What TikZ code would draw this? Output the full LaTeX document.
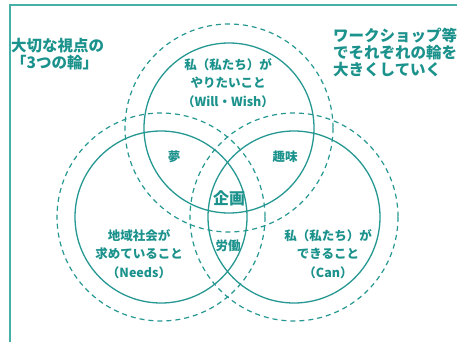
\documentclass[tikz,border=0pt]{standalone}
\usepackage{fontspec}
\setmainfont{Noto Sans CJK JP}
\font\jpbA="Noto Sans CJK JP/B" at 12.5pt
\font\jpbB="Noto Sans CJK JP/B" at 15.5pt
\font\jpbC="Noto Sans CJK JP/B" at 16pt
\newcommand{\lblskip}{\baselineskip=18.5pt\relax}
\newcommand{\headskip}{\baselineskip=17pt\relax}
\definecolor{ringteal}{RGB}{38,152,146}
\definecolor{textteal}{RGB}{28,146,140}
\definecolor{frameteal}{RGB}{70,176,166}
\begin{document}
\begin{tikzpicture}[x=1pt,y=-1pt,
  ring/.style={draw=ringteal,line width=1.3pt},
  dring/.style={draw=ringteal,line width=1.2pt,dash pattern=on 5pt off 4pt},
  lbl/.style={text=textteal,font=\jpbA,execute at begin node=\lblskip,align=center,inner sep=0pt},
  head/.style={text=textteal,font=\jpbB,execute at begin node=\headskip,align=left,inner sep=0pt,anchor=west}]
\useasboundingbox (0,0) rectangle (457,342);
\fill[white] (0,0) rectangle (457,342);
% frame
\coordinate (fa) at (10,342);
\coordinate (fb) at (10,5);
\coordinate (fc) at (457,5);
\draw[frameteal,line width=1.2pt] (fa) -- (fb) -- (fc);
% ring centres
\coordinate (T) at (229,128);
\coordinate (L) at (161,217);
\coordinate (R) at (294,217);
\draw[dring] (T) circle[radius=104];
\draw[dring] (L) circle[radius=104];
\draw[dring] (R) circle[radius=104];
\draw[ring] (T) circle[radius=85];
\draw[ring] (L) circle[radius=86];
\draw[ring] (R) circle[radius=86];
% labels
\node[lbl] (will) at (228,83) {私（私たち）が\\やりたいこと\\（Will・Wish）};
\node[lbl] (needs) at (139,254) {地域社会が\\求めていること\\（Needs）};
\node[lbl] (can) at (328,254) {私（私たち）が\\できること\\（Can）};
\node[lbl] (yume) at (174,157) {夢};
\node[lbl] (shumi) at (285,157) {趣味};
\node[lbl,font=\jpbC] (kikaku) at (229,198) {企画};
\node[lbl] (roudou) at (228,246) {労働};
\node[head] (title) at (11,54.5) {大切な視点の\\「3つの輪」};
\node[head] (ws) at (333,53) {ワークショップ等\\でそれぞれの輪を\\大きくしていく};
\end{tikzpicture}
\end{document}
